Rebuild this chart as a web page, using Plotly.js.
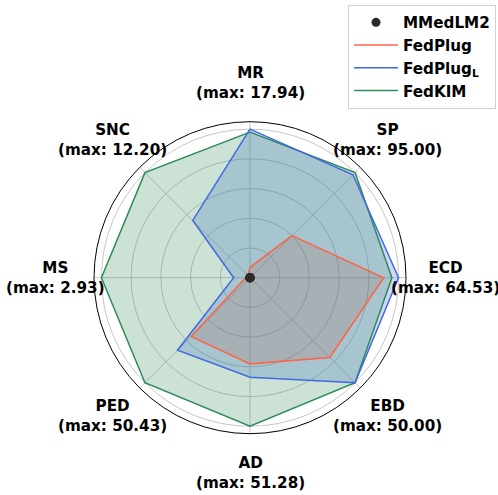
<!DOCTYPE html>
<html>
<head>
<meta charset="utf-8">
<script src="https://cdn.plot.ly/plotly-3.0.1.min.js"></script>
<style>html,body{margin:0;padding:0;background:#fff;}#chart{width:498px;height:495px;}</style>
</head>
<body>
<div id="chart"></div>
<script>
// Axes (clockwise from top) and the maximum raw score on each axis
const categories = ["MR", "SP", "ECD", "EBD", "AD", "PED", "MS", "SNC"];
const maxValues = ["17.94", "95.00", "64.53", "50.00", "51.28", "50.43", "2.93", "12.20"];

// Scores normalised by each axis maximum
const mmedlm2 = [0, 0, 0, 0, 0, 0, 0, 0];
const fedPlug = [0.07, 0.40, 0.90, 0.76, 0.58, 0.56, 0.03, 0.02];
const fedPlugL = [1.00, 0.98, 1.00, 1.00, 0.67, 0.69, 0.11, 0.545];
const fedKIM = [0.98, 1.00, 0.955, 1.00, 1.00, 1.00, 1.00, 1.00];

const W = 498, H = 495;
const close = a => a.concat([a[0]]);
const theta = close(categories);

function fillTrace(name, vals, fill) {
  return {
    type: "scatterpolar", mode: "lines", name: name, showlegend: false,
    r: close(vals), theta: theta,
    line: {color: "rgba(0,0,0,0)", width: 0},
    fill: "toself", fillcolor: fill, hoverinfo: "skip"
  };
}
function lineTrace(name, vals, color, rank) {
  return {
    type: "scatterpolar", mode: "lines", name: name,
    r: close(vals), theta: theta,
    line: {color: color, width: 1.5},
    legendrank: rank
  };
}

const traces = [
  fillTrace("FedPlug", fedPlug, "rgba(255,99,71,0.25)"),
  fillTrace("FedPlug<sub>L</sub>", fedPlugL, "rgba(65,105,225,0.25)"),
  fillTrace("FedKIM", fedKIM, "rgba(46,139,87,0.25)"),
  lineTrace("FedKIM", fedKIM, "#2e8b57", 4),
  lineTrace("FedPlug<sub>L</sub>", fedPlugL, "#4169e1", 3),
  lineTrace("FedPlug", fedPlug, "#ff6347", 2),
  {
    type: "scatterpolar", mode: "markers", name: "MMedLM2",
    r: mmedlm2, theta: categories,
    marker: {color: "#2b2b2b", size: 9},
    legendrank: 1
  }
];

// Label placement around the polar area
const cxPx = 250, cyPx = 277.7, labelR = 195;
const annotations = categories.map((c, i) => {
  const a = i * 2 * Math.PI / categories.length;
  return {
    xref: "paper", yref: "paper",
    x: (cxPx + labelR * Math.sin(a)) / W,
    y: (H - cyPx + labelR * Math.cos(a)) / H,
    xanchor: "center", yanchor: "middle",
    text: c + "<br>(max: " + maxValues[i] + ")",
    showarrow: false,
    font: {family: "DejaVu Sans", size: 15.2, color: "#000", weight: "bold"}
  };
});

const R = 156;
const layout = {
  width: W, height: H,
  margin: {l: 0, r: 0, t: 0, b: 0},
  paper_bgcolor: "#fff",
  font: {family: "DejaVu Sans", color: "#000"},
  showlegend: true,
  legend: {
    x: 0.996, y: 0.99, xanchor: "right", yanchor: "top",
    bgcolor: "rgba(255,255,255,0.9)", bordercolor: "#d0d0d0", borderwidth: 1,
    font: {family: "DejaVu Sans", size: 15.2, color: "#000", weight: "bold"},
    itemwidth: 44,
    tracegroupgap: 0
  },
  polar: {
    domain: {x: [(cxPx - R) / W, (cxPx + R) / W], y: [(H - cyPx - R) / H, (H - cyPx + R) / H]},
    bgcolor: "#fff",
    radialaxis: {
      range: [0, 1.05], tickvals: [0.2, 0.4, 0.6, 0.8, 1.0],
      showticklabels: false, ticks: "", showline: false,
      gridcolor: "#b8b8b8", gridwidth: 0.8
    },
    angularaxis: {
      rotation: 90, direction: "clockwise",
      showticklabels: false, ticks: "",
      linecolor: "#000", linewidth: 1,
      gridcolor: "#b8b8b8", gridwidth: 0.8
    }
  },
  annotations: annotations
};

Plotly.newPlot("chart", traces, layout, {displayModeBar: false, staticPlot: true});
</script>
</body>
</html>
